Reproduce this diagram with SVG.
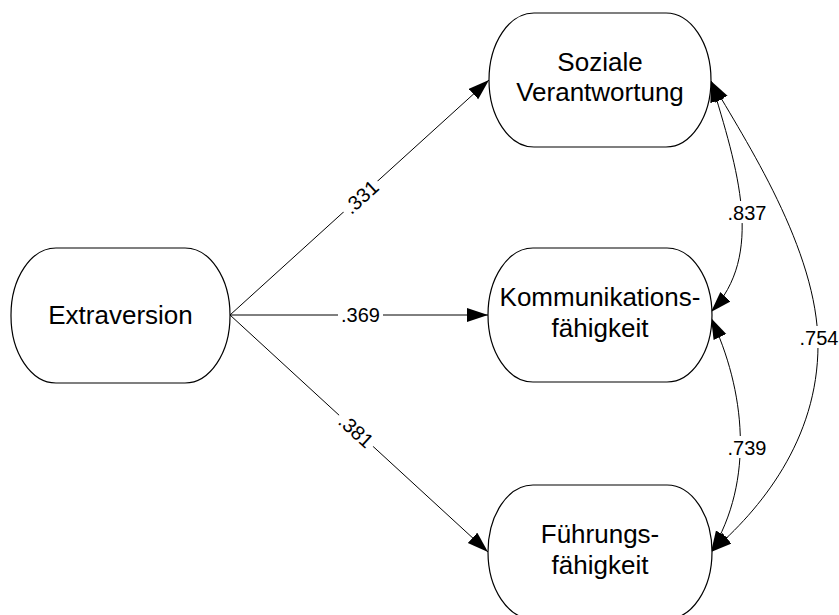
<svg xmlns="http://www.w3.org/2000/svg" width="839" height="615" viewBox="0 0 839 615">
<style>
.node{fill:#fff;stroke:#000;stroke-width:1.2}
.nt{font-family:"Liberation Sans",Arial,sans-serif;font-size:26px;fill:#000;text-anchor:middle}
.lt{font-family:"Liberation Sans",Arial,sans-serif;font-size:20px;fill:#000;text-anchor:middle}
.edge{fill:none;stroke:#000;stroke-width:1}
.bg{fill:#fff;stroke:none}
</style>
<defs>
<marker id="ah" markerUnits="userSpaceOnUse" markerWidth="22" markerHeight="16" refX="21" refY="7" orient="auto-start-reverse" viewBox="0 0 22 16">
<path d="M0,0 L21,7 L0,14 z" fill="#000"/>
</marker>
</defs>
<rect width="839" height="615" fill="#fff"/>
<g id="connectors">
<path class="edge" d="M230,315 L489,80" marker-end="url(#ah)"/>
<path class="edge" d="M230,315 L488,315" marker-end="url(#ah)"/>
<path class="edge" d="M230,315 L488,552" marker-end="url(#ah)"/>
<path class="edge" d="M711,81 C738,170 765,255 711,312" marker-start="url(#ah)" marker-end="url(#ah)"/>
<path class="edge" d="M711,318 C745,390 755,480 711,552" marker-start="url(#ah)" marker-end="url(#ah)"/>
<path class="edge" d="M711,81 C745,140 818,250 818,345 S760,510 711,552" marker-start="url(#ah)" marker-end="url(#ah)"/>
<g id="lbl331" transform="translate(361,197) rotate(-42.2)"><rect class="bg" x="-23" y="-10" width="46" height="20"/><text class="lt" x="0" y="7">.331</text></g>
<g id="lbl369"><rect class="bg" x="338" y="305" width="45" height="20"/><text class="lt" x="360.5" y="322">.369</text></g>
<g id="lbl381" transform="translate(356,431) rotate(42.6)"><rect class="bg" x="-23" y="-10" width="46" height="20"/><text class="lt" x="0" y="7">.381</text></g>
<g id="lbl837"><rect class="bg" x="725" y="201" width="44" height="22"/><text class="lt" x="747" y="220">.837</text></g>
<g id="lbl739"><rect class="bg" x="725" y="436" width="44" height="22"/><text class="lt" x="747" y="455">.739</text></g>
<g id="lbl754"><rect class="bg" x="798" y="326" width="41" height="22"/><text class="lt" x="819" y="345">.754</text></g>
</g>
<g id="extraversion">
<rect class="node" x="11" y="248" width="219" height="135" rx="45" ry="67"/>
<text class="nt" x="120.5" y="323.5">Extraversion</text>
</g>
<g id="soziale">
<rect class="node" x="489" y="13" width="222" height="134" rx="45" ry="67"/>
<text class="nt" x="600" y="70.5">Soziale</text>
<text class="nt" x="600" y="101">Verantwortung</text>
</g>
<g id="kommunikation">
<rect class="node" x="488" y="248" width="224" height="134" rx="45" ry="67"/>
<text class="nt" x="600" y="305.5">Kommunikations-</text>
<text class="nt" x="600" y="337">fähigkeit</text>
</g>
<g id="fuehrung">
<rect class="node" x="488" y="485" width="224" height="134" rx="45" ry="67"/>
<text class="nt" x="600" y="542.5">Führungs-</text>
<text class="nt" x="600" y="574">fähigkeit</text>
</g>
</svg>
